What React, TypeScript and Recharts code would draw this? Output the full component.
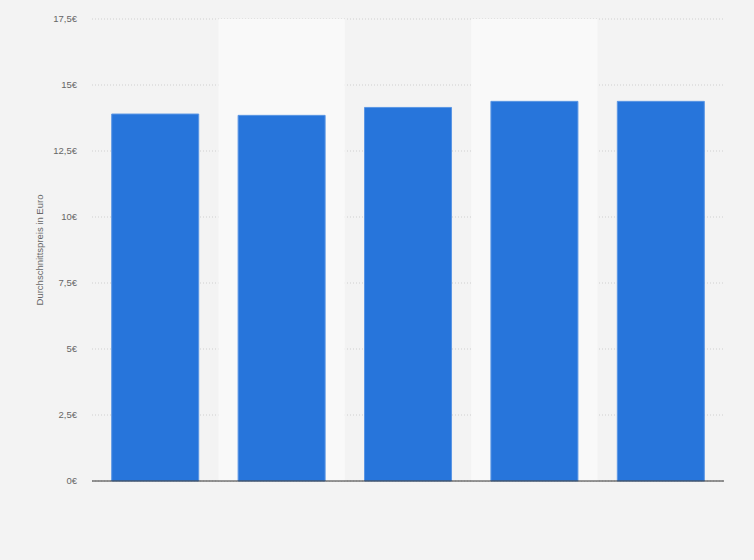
import { BarChart, Bar, XAxis, YAxis, CartesianGrid, ReferenceArea } from "recharts";

// categories are not labelled in the picture
const categories = ["1", "2", "3", "4", "5"];
const prices = [13.9, 13.85, 14.15, 14.38, 14.38];
const yTicks = [0, 2.5, 5, 7.5, 10, 12.5, 15, 17.5];
const shadedCategories = ["2", "4"];

const data = categories.map((name, i) => ({ name, price: prices[i] }));

const formatEuro = (v: number) => `${String(v).replace(".", ",")}€`;

export default function App() {
  return (
    <div style={{ width: 754, height: 560, background: "#f3f3f3" }}>
      <style>{"body{margin:0}"}</style>
      <BarChart
        width={754}
        height={560}
        data={data}
        margin={{ top: 19, right: 30, left: 0, bottom: 78 }}
        barCategoryGap="15.6%"
      >
        {shadedCategories.map((c) => (
          <ReferenceArea key={c} x1={c} x2={c} fill="#f9f9f9" fillOpacity={1} stroke="none" ifOverflow="visible" />
        ))}
        <CartesianGrid vertical={false} stroke="#cfcfcf" strokeDasharray="1 2" />
        <XAxis
          dataKey="name"
          tick={false}
          tickLine={false}
          height={1}
          axisLine={{ stroke: "#333", strokeWidth: 1 }}
        />
        <YAxis
          width={92}
          domain={[0, 17.5]}
          ticks={yTicks}
          interval={0}
          tickFormatter={formatEuro}
          axisLine={false}
          tickLine={false}
          tickMargin={9}
          tick={{ fontSize: 9.5, fill: "#666", fontFamily: "Arial, 'Liberation Sans', sans-serif" }}
          label={{
            value: "Durchschnittspreis in Euro",
            angle: -90,
            position: "insideLeft",
            offset: 40,
            style: { textAnchor: "middle", fontSize: 9.5, fill: "#666", fontFamily: "Arial, 'Liberation Sans', sans-serif" },
          }}
        />
        <Bar dataKey="price" fill="#2775db" stroke="#5b96e4" strokeWidth={1} isAnimationActive={false} />
      </BarChart>
    </div>
  );
}
